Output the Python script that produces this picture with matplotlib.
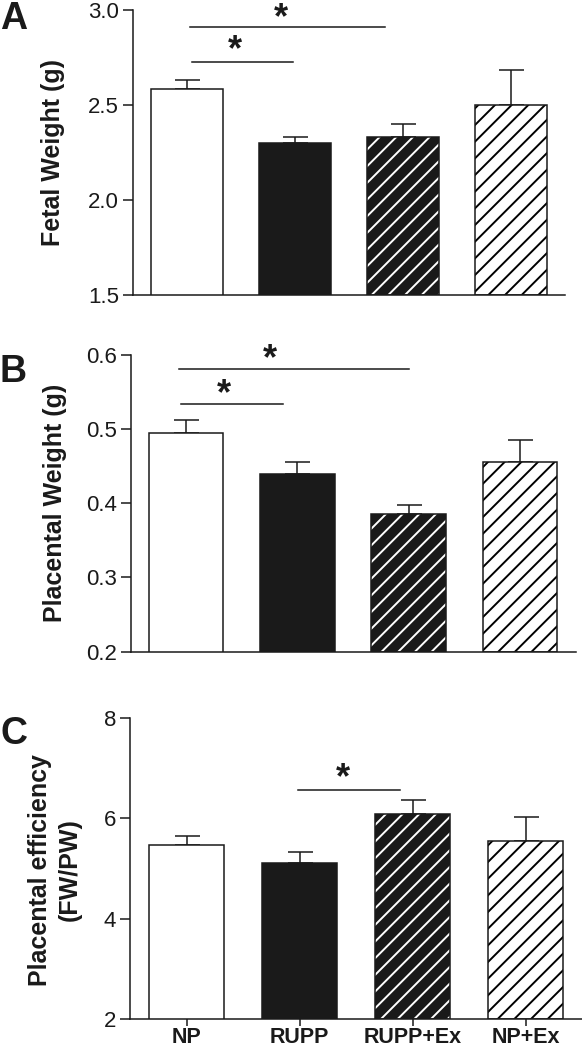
import matplotlib
matplotlib.use("Agg")
import matplotlib.pyplot as plt
import numpy as np

plt.rcParams['font.family'] = ['Liberation Sans', 'DejaVu Sans']
plt.rcParams['hatch.linewidth'] = 1.4

groups = ["NP", "RUPP", "RUPP+Ex", "NP+Ex"]

fetal_mean = [2.58, 2.30, 2.33, 2.50]
fetal_sem = [0.05, 0.03, 0.07, 0.18]

plac_mean = [0.495, 0.440, 0.386, 0.455]
plac_sem = [0.017, 0.016, 0.011, 0.030]

eff_mean = [5.47, 5.10, 6.08, 5.55]
eff_sem = [0.18, 0.23, 0.29, 0.48]

# significance brackets: (x_start, x_end, y_line, x_star, y_star)
sig_A = [(0.03, 1.83, 2.91, 0.87, 2.95), (0.045, 0.985, 2.726, 0.445, 2.785)]
sig_B = [(-0.06, 2.0, 0.5806, 0.75, 0.594), (-0.05, 0.87, 0.5333, 0.34, 0.547)]
sig_C = [(0.99, 1.89, 6.57, 1.38, 6.80)]

fig = plt.figure(figsize=(5.82, 10.5), dpi=100)

W = 1050.0
Wd = 582.0
def axes_px(x0, x1, ytop, ybot):
    return fig.add_axes([x0 / Wd, 1 - ybot / W, (x1 - x0) / Wd, (ybot - ytop) / W])

axA = axes_px(133, 565, 9.5, 295)
axB = axes_px(130.5, 575.5, 355, 651.5)
axC = axes_px(130, 582, 718, 1019)

face = ["white", "#1a1a1a", "#1a1a1a", "white"]
hatch = [None, None, "//", "//"]
hcol = [None, None, "white", "black"]
x = np.arange(len(groups))
bw = 0.67
lw = 1.1
ink = "#1a1a1a"

def draw(ax, means, sems, ylim, yticks, yticklabels, sigs):
    for i in range(len(groups)):
        if hatch[i]:
            ax.bar(x[i], means[i] - ylim[0], bottom=ylim[0], width=bw, color=face[i],
                   edgecolor=hcol[i], hatch=hatch[i], linewidth=0, zorder=2)
            ax.bar(x[i], means[i] - ylim[0], bottom=ylim[0], width=bw, fill=False,
                   edgecolor=ink, linewidth=lw, zorder=3)
        else:
            ax.bar(x[i], means[i] - ylim[0], bottom=ylim[0], width=bw, color=face[i],
                   edgecolor=ink, linewidth=lw, zorder=3)
    ax.errorbar(x, means, yerr=[np.zeros(len(sems)), sems], fmt='none',
                ecolor=ink, elinewidth=lw, capsize=9, capthick=lw, zorder=1)
    ax.set_xlim(-0.5, 3.5)
    ax.set_ylim(*ylim)
    ax.set_yticks(yticks)
    ax.set_yticklabels(yticklabels, fontsize=16, color=ink)
    for s in ["top", "right"]:
        ax.spines[s].set_visible(False)
    for s in ["left", "bottom"]:
        ax.spines[s].set_linewidth(lw)
        ax.spines[s].set_color(ink)
    ax.tick_params(axis='y', length=7, width=lw, color=ink, pad=3)
    for (xs, xe, yl, xa, ya) in sigs:
        ax.plot([xs, xe], [yl, yl], color=ink, lw=lw, clip_on=False)
        ax.text(xa, ya, "*", fontsize=26, fontweight='bold', ha='center', va='center',
                color=ink, clip_on=False)

draw(axA, fetal_mean, fetal_sem, (1.5, 3.0), [1.5, 2.0, 2.5, 3.0], ["1.5", "2.0", "2.5", "3.0"], sig_A)
draw(axB, plac_mean, plac_sem, (0.2, 0.6), [0.2, 0.3, 0.4, 0.5, 0.6], ["0.2", "0.3", "0.4", "0.5", "0.6"], sig_B)
draw(axC, eff_mean, eff_sem, (2, 8), [2, 4, 6, 8], ["2", "4", "6", "8"], sig_C)

for ax in (axA, axB):
    ax.set_xticks([])
axC.set_xticks(x)
axC.set_xticklabels(groups, fontsize=15.5, fontweight='bold', color=ink)
axC.tick_params(axis='x', length=5, width=lw, color=ink, pad=1)

fig.text(53 / Wd, 1 - 152 / W, "Fetal Weight (g)", rotation=90, ha='center', va='center',
         fontsize=18, fontweight='bold', color=ink)
fig.text(55 / Wd, 1 - 503 / W, "Placental Weight (g)", rotation=90, ha='center', va='center',
         fontsize=18, fontweight='bold', color=ink)
fig.text(55 / Wd, 1 - 870 / W, "Placental efficiency\n(FW/PW)", rotation=90, ha='center', va='center',
         fontsize=18, fontweight='bold', color=ink, linespacing=1.3)

for lab, yp in [("A", 19), ("B", 372), ("C", 734)]:
    fig.text(0, 1 - yp / W, lab, ha='left', va='center', fontsize=27, fontweight='bold',
             color=ink)

fig.savefig("out.png", dpi=100)
